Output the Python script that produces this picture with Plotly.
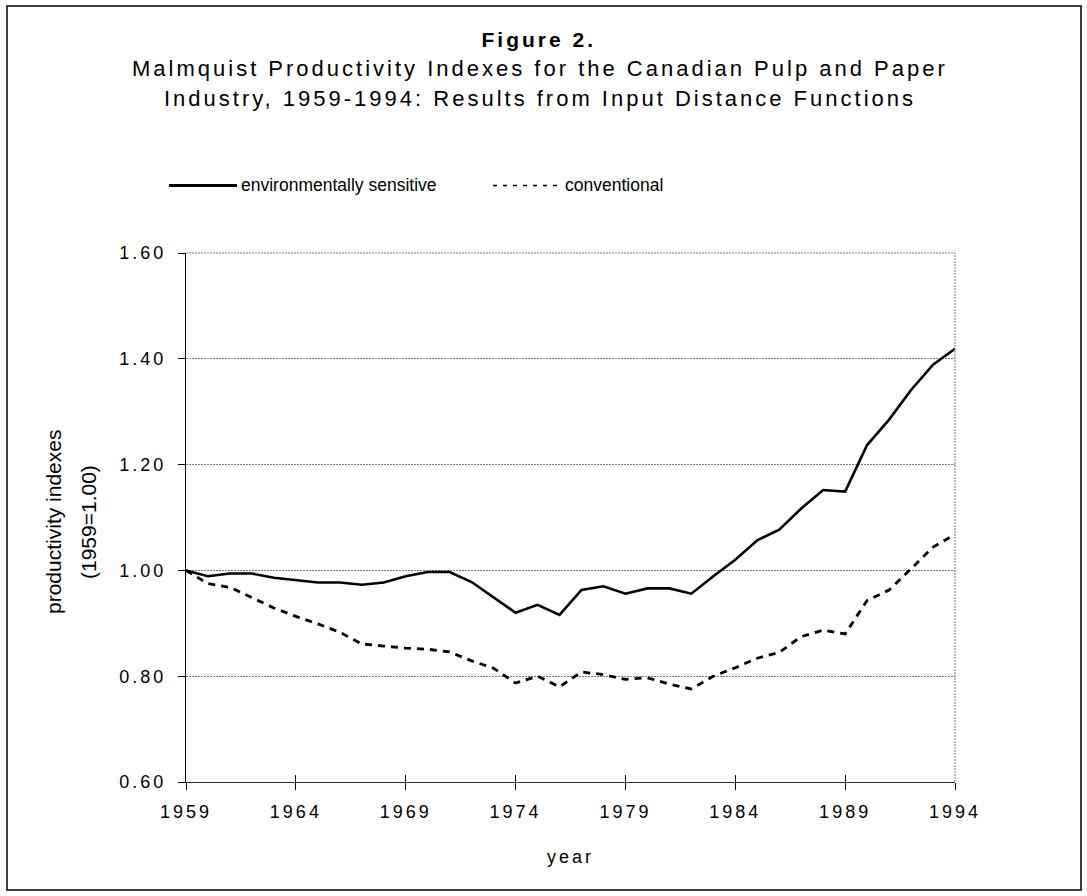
import plotly.graph_objects as go

years = list(range(1959, 1995))
env_sensitive = [1.000, 0.989, 0.994, 0.994, 0.986, 0.981, 0.977, 0.977, 0.973, 0.977,
                 0.989, 0.997, 0.997, 0.978, 0.949, 0.920, 0.935, 0.916, 0.963, 0.970,
                 0.956, 0.966, 0.966, 0.956, 0.989, 1.020, 1.057, 1.077, 1.117, 1.152,
                 1.149, 1.237, 1.285, 1.341, 1.389, 1.419]
conventional = [1.000, 0.975, 0.968, 0.949, 0.929, 0.913, 0.899, 0.883, 0.861, 0.857,
                0.853, 0.851, 0.846, 0.829, 0.815, 0.787, 0.800, 0.780, 0.808, 0.803,
                0.794, 0.797, 0.785, 0.776, 0.800, 0.816, 0.834, 0.845, 0.875, 0.887,
                0.880, 0.943, 0.963, 1.003, 1.044, 1.068]
x_ticks = [1959, 1964, 1969, 1974, 1979, 1984, 1989, 1994]
y_ticks = [0.60, 0.80, 1.00, 1.20, 1.40, 1.60]

title_main = "Figure 2."
title_sub1 = "Malmquist Productivity Indexes for the Canadian Pulp and Paper"
title_sub2 = "Industry, 1959-1994: Results from Input Distance Functions"
series_names = ["environmentally sensitive", "conventional"]

FONT = "Liberation Sans, Arial, sans-serif"

W, H = 1087, 896
L, R, T, B = 186, 132, 253, 114
PW, PH = W - L - R, H - T - B

def px(x):
    return (x - L) / PW

def py(y):
    return (H - B - y) / PH

fig = go.Figure()
fig.add_trace(go.Scatter(x=years, y=env_sensitive, mode="lines", name=series_names[0],
                         line=dict(color="black", width=2.6), showlegend=False))
fig.add_trace(go.Scatter(x=years, y=conventional, mode="lines", name=series_names[1],
                         line=dict(color="black", width=2.8, dash="7px,6px"), showlegend=False))

fig.update_layout(
    width=W, height=H,
    margin=dict(l=L, r=R, t=T, b=B, pad=0),
    paper_bgcolor="white", plot_bgcolor="white",
    font=dict(family=FONT, size=18, color="black"),
    xaxis=dict(range=[1959, 1994], tickvals=x_ticks, ticks="outside", ticklen=7,
               tickcolor="black", showgrid=False, showline=True, linecolor="#303030",
               linewidth=1, zeroline=False, ticklabelstandoff=6,
               tickfont=dict(family=FONT, size=18, color="black")),
    xaxis2=dict(range=[1959, 1994], tickvals=x_ticks, ticks="inside", ticklen=7,
                tickcolor="black", showgrid=False, showline=False, zeroline=False,
                showticklabels=False, overlaying="x", anchor="y", side="bottom"),
    yaxis=dict(range=[0.6, 1.6], tickvals=y_ticks, tickformat=".2f", ticks="outside",
               ticklen=7, tickcolor="black", showgrid=True, gridcolor="#7a7a7a",
               griddash="2px,1px", gridwidth=1, showline=True, linecolor="black",
               linewidth=1, zeroline=False, ticklabelstandoff=8,
               tickfont=dict(family=FONT, size=18, color="black")),
)

# invisible trace that carries the inside-tick overlay axis
fig.add_trace(go.Scatter(x=[years[0]], y=[env_sensitive[0]], xaxis="x2", mode="markers",
                         marker=dict(opacity=0), showlegend=False, hoverinfo="skip"))

shapes = [
    # outer frame
    dict(type="rect", xref="paper", yref="paper", x0=px(7), x1=px(1081), y0=py(890), y1=py(6),
         line=dict(color="black", width=1.5), fillcolor="rgba(0,0,0,0)", layer="below"),
    # dotted right and top borders of plot area
    dict(type="line", xref="paper", yref="paper", x0=1, x1=1, y0=0, y1=1,
         line=dict(color="#7a7a7a", width=1, dash="2px,1px")),
    dict(type="line", xref="paper", yref="paper", x0=0, x1=1, y0=1, y1=1,
         line=dict(color="#7a7a7a", width=1, dash="2px,1px")),
    # legend samples
    dict(type="line", xref="paper", yref="paper", x0=px(169), x1=px(237), y0=py(185.5), y1=py(185.5),
         line=dict(color="black", width=3)),
    dict(type="line", xref="paper", yref="paper", x0=px(493), x1=px(558), y0=py(185.5), y1=py(185.5),
         line=dict(color="black", width=1.6, dash="4px,6px")),
]
fig.update_layout(shapes=shapes)

annotations = [
    dict(text="<b>" + title_main + "</b>", x=px(539), y=py(40), font=dict(size=21)),
    dict(text=title_sub1, x=px(539.5), y=py(68.5), font=dict(size=22)),
    dict(text=title_sub2, x=px(539.5), y=py(98), font=dict(size=22)),
    dict(text="year", x=px(570), y=py(857), font=dict(size=18)),
    dict(text="productivity indexes", x=px(53), y=py(522), textangle=-90, font=dict(size=21)),
    dict(text="(1959=1.00)", x=px(88), y=py(522), textangle=-90, font=dict(size=21)),
    dict(text=series_names[0], x=px(239), y=py(185), xanchor="left", font=dict(size=17.5)),
    dict(text=series_names[1], x=px(563), y=py(185), xanchor="left", font=dict(size=17.5)),
]
for a in annotations:
    a.setdefault("xanchor", "center")
    a.update(xref="paper", yref="paper", yanchor="middle", showarrow=False)
    a["font"].setdefault("family", FONT)
    a["font"].setdefault("color", "black")
fig.update_layout(annotations=annotations)

css = (
    "body{margin:0;padding:0}"
    ".xtick text,.ytick text{letter-spacing:3px}"
    ".annotation[data-index='0'] text,.annotation[data-index='1'] text,"
    ".annotation[data-index='2'] text,.annotation[data-index='3'] text{letter-spacing:3px}"
)
post = ("var s=document.createElement('style');s.textContent=\"" + css + "\";"
        "document.head.appendChild(s);")

fig.write_html("out.html", post_script=post, config={"displayModeBar": False})
